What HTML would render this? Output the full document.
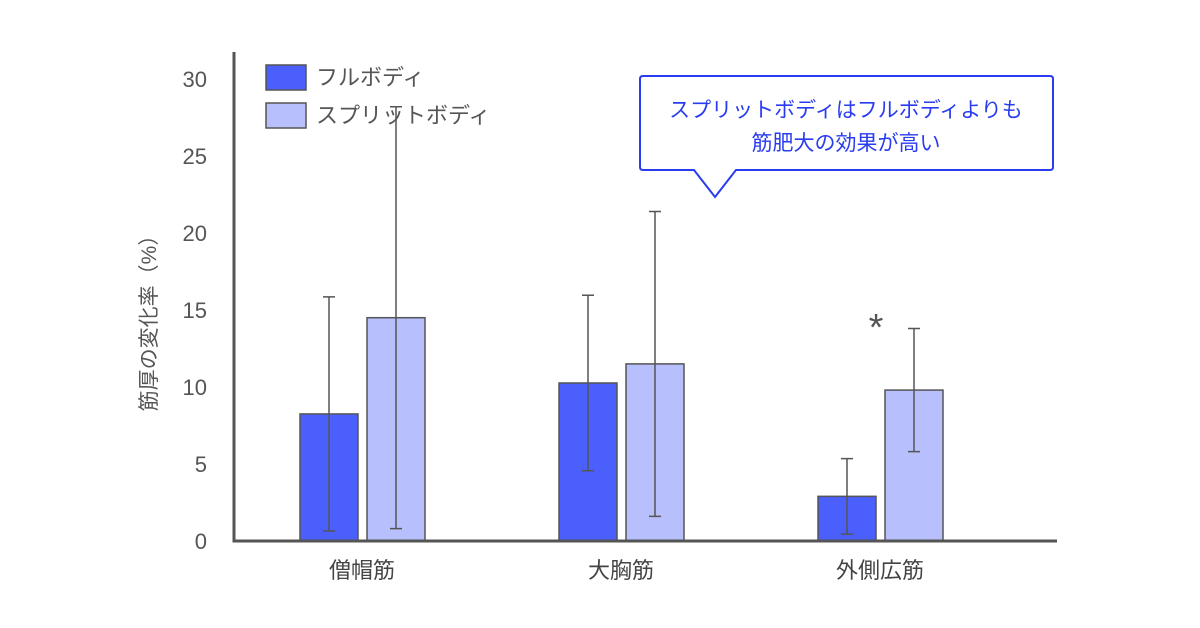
<!DOCTYPE html>
<html><head><meta charset="utf-8"><style>
body{margin:0;background:#fff;}
svg{display:block;font-family:"Liberation Sans","Noto Sans CJK JP",sans-serif;}
</style></head><body>
<svg id="chart" width="1200" height="628" viewBox="0 0 1200 628">
<g id="g"></g>
</svg>
<script>
const categories=["僧帽筋","大胸筋","外側広筋"];
const fullValues=[8.25,10.26,2.9];
const fullErrors=[7.6,5.7,2.45];
const splitValues=[14.5,11.5,9.8];
const splitErrors=[13.7,9.9,4.0];
const yTicks=[0,5,10,15,20,25,30];
const NS="http://www.w3.org/2000/svg";
const g=document.getElementById('g');
function y(v){return 541-v*15.4;}
function cx(i){return 362+i*259;}
function el(t,a,txt){const e=document.createElementNS(NS,t);for(const k in a)e.setAttribute(k,a[k]);if(txt!==undefined)e.textContent=txt;g.appendChild(e);return e;}
yTicks.forEach(t=>{const e=el('text',{x:207,y:y(t)+8,'text-anchor':'end','font-size':22,fill:'#555'},t);

});
const yt=el('text',{x:0,y:0,transform:'translate(156,318) rotate(-90)','text-anchor':'middle','font-size':21,fill:'#555'},'筋厚の変化率（%）');


function bar(i,off,v,err,fill,name){
  const x=cx(i)+off;
  const r=el('rect',{x:x-29,y:y(v),width:58,height:y(0)-y(v),fill:fill,stroke:'#555','stroke-width':1.5});
  
  
  const l=el('path',{d:`M${x},${y(v+err)}V${y(v-err)}M${x-6},${y(v+err)}H${x+6}M${x-6},${y(v-err)}H${x+6}`,stroke:'#555','stroke-width':1.5,fill:'none'});
  
  
}
categories.forEach((c,i)=>{
  bar(i,-33,fullValues[i],fullErrors[i],'#4a5ffc','bar-full-'+i);
  bar(i,34,splitValues[i],splitErrors[i],'#b7bffd','bar-split-'+i);
  const t=el('text',{x:cx(i),y:578,'text-anchor':'middle','font-size':22,fill:'#444'},c);
  
  
});
const ax=el('path',{d:'M234,52V541H1057',stroke:'#555','stroke-width':3,fill:'none'});


const star=el('text',{x:876,y:340,'text-anchor':'middle','font-size':38,fill:'#555'},'*');


</script>
<svg style="position:absolute;left:0;top:0" width="1200" height="628">
<g>
<rect x="266" y="65" width="40" height="25" fill="#4a5ffc" stroke="#555" stroke-width="1.5"/>
<text x="316" y="85" font-size="22" fill="#555" font-family="Liberation Sans, Noto Sans CJK JP, sans-serif">フルボディ</text>
<rect x="266" y="103" width="40" height="25" fill="#b7bffd" stroke="#555" stroke-width="1.5"/>
<text x="316" y="123" font-size="22" fill="#555" font-family="Liberation Sans, Noto Sans CJK JP, sans-serif">スプリットボディ</text>
</g>
<g>
<path d="M643,76H1050Q1053,76 1053,79V167Q1053,170 1050,170H736L715,197L694,170H643Q640,170 640,167V79Q640,76 643,76Z" fill="#fff" stroke="#2a3cf0" stroke-width="2"/>
<text x="846" y="117" text-anchor="middle" font-size="21" fill="#2a3cf0" font-family="Liberation Sans, Noto Sans CJK JP, sans-serif">スプリットボディはフルボディよりも</text>
<text x="846" y="150" text-anchor="middle" font-size="21" fill="#2a3cf0" font-family="Liberation Sans, Noto Sans CJK JP, sans-serif">筋肥大の効果が高い</text>
</g>
</svg>
</body></html>
